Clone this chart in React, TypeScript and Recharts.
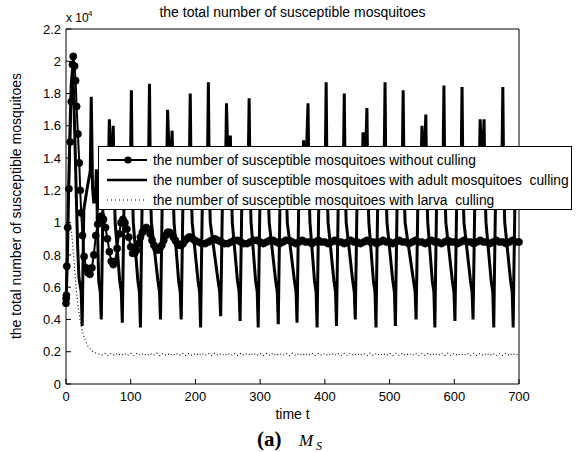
import { LineChart, Line, XAxis, YAxis, Legend } from "recharts";

const xTicks = [0, 100, 200, 300, 400, 500, 600, 700];
const yTicks = [0, 0.2, 0.4, 0.6, 0.8, 1, 1.2, 1.4, 1.6, 1.8, 2, 2.2];

const seriesNames = [
  "the number of susceptible mosquitoes without culling",
  "the number of susceptible mosquitoes with adult mosquitoes  culling",
  "the number of susceptible mosquitoes with larva  culling",
];

// [time t, susceptible mosquitoes in units of 10^4]
const withoutCulling: [number, number][] = [
  [0, 0.5], [0.3, 0.53], [0.6, 0.55], [1.2, 0.73], [2.5, 0.97], [4.5, 1.21], [6.5, 1.5], [8.2, 1.75],
  [10, 1.98], [11.2, 2.03], [13.3, 1.97], [14.8, 1.88], [16.4, 1.72], [18.4, 1.55], [20.5, 1.37],
  [22, 1.2], [23.5, 1.06], [25.5, 0.92], [28, 0.79], [31, 0.72], [34, 0.69], [37, 0.68], [40, 0.72],
  [43, 0.8], [46, 0.92], [49, 0.99], [52, 1.03], [55, 1.04], [58, 1.02], [61, 0.97], [64, 0.9],
  [67, 0.82], [70, 0.76], [73, 0.74], [76, 0.76], [79, 0.84], [82, 0.93], [85, 1.0], [88, 1.02],
  [91, 1.0], [94, 0.96], [97, 0.91], [100, 0.85], [103, 0.81], [106, 0.81], [109, 0.83], [112, 0.87],
  [115, 0.91], [118, 0.94], [121, 0.96], [124, 0.97], [127, 0.96], [130, 0.93], [133, 0.89], [136, 0.86],
  [139, 0.84], [142, 0.83], [145, 0.84], [148, 0.86], [151, 0.89], [154, 0.92], [157, 0.94], [160, 0.94],
  [163, 0.93], [166, 0.91], [169, 0.89], [172, 0.87], [175, 0.86], [178, 0.86], [181, 0.87], [184, 0.89],
  [187, 0.9], [190, 0.91], [193, 0.91], [196, 0.9], [199, 0.89],
  [205, 0.88], [210, 0.87], [215, 0.87], [220, 0.88], [225, 0.89], [230, 0.9], [235, 0.89], [240, 0.88],
  [245, 0.87], [250, 0.87], [255, 0.88], [260, 0.89], [265, 0.89], [270, 0.88], [275, 0.87], [280, 0.87],
  [285, 0.88], [290, 0.89], [295, 0.89], [300, 0.88], [305, 0.87], [310, 0.88], [315, 0.89], [320, 0.89],
  [325, 0.88], [330, 0.87], [335, 0.88], [340, 0.89], [345, 0.89], [350, 0.88], [355, 0.87], [360, 0.88],
  [365, 0.89], [370, 0.88], [375, 0.88], [380, 0.87], [385, 0.88], [390, 0.89], [395, 0.88], [400, 0.88],
  [405, 0.87], [410, 0.88], [415, 0.89], [420, 0.88], [425, 0.88], [430, 0.87], [435, 0.88], [440, 0.89],
  [445, 0.88], [450, 0.88], [455, 0.87], [460, 0.88], [465, 0.89], [470, 0.88], [475, 0.88], [480, 0.87],
  [485, 0.88], [490, 0.89], [495, 0.88], [500, 0.88], [505, 0.87], [510, 0.88], [515, 0.89], [520, 0.88],
  [525, 0.88], [530, 0.87], [535, 0.88], [540, 0.89], [545, 0.88], [550, 0.88], [555, 0.87], [560, 0.88],
  [565, 0.89], [570, 0.88], [575, 0.88], [580, 0.87], [585, 0.88], [590, 0.89], [595, 0.88], [600, 0.88],
  [605, 0.87], [610, 0.88], [615, 0.89], [620, 0.88], [625, 0.88], [630, 0.87], [635, 0.88], [640, 0.89],
  [645, 0.88], [650, 0.88], [655, 0.87], [660, 0.88], [665, 0.89], [670, 0.88], [675, 0.88], [680, 0.87],
  [685, 0.88], [690, 0.89], [695, 0.88], [700, 0.88],
];

const adultCulling: [number, number][] = [
  [0, 0.5], [2, 0.75], [4, 1.2], [6, 1.55], [8, 1.85], [10, 1.95], [12, 1.78], [14, 1.48], [16, 1.15],
  [18, 0.85], [20, 0.66], [23.5, 0.57], [25, 0.36],
  [26.2, 0.72], [27.5, 1.08], [33, 1.22], [37.5, 1.32], [39, 1.78], [41, 1.22], [43, 1.12], [45.5, 1.18],
  [47, 1.33], [48.5, 1.0], [50.5, 0.64], [53, 0.57], [54.5, 0.4],
  [55.7, 0.72], [57, 1.08], [62, 1.22], [65.5, 1.32], [67, 1.64], [70, 1.28], [73, 1.6], [74.5, 1.2],
  [76, 1.0], [83, 0.64], [85.5, 0.57], [87, 0.38],
  [88.2, 0.72], [89.5, 1.08], [94, 1.22], [99.5, 1.32], [101, 1.82], [102.5, 1.2], [104, 1.0], [111, 0.64],
  [113.5, 0.57], [115, 0.35],
  [116.2, 0.72], [117.5, 1.08], [122, 1.22], [127.5, 1.32], [129, 1.86], [130.5, 1.2], [132, 1.0], [142, 0.64],
  [144.5, 0.57], [146, 0.4],
  [147.2, 0.72], [148.5, 1.08], [153, 1.22], [155.5, 1.32], [157, 1.7], [160.5, 1.28], [164, 1.57],
  [165.5, 1.2], [167, 1.0], [174, 0.64], [176.5, 0.57], [178, 0.4],
  [179.2, 0.72], [180.5, 1.08], [185, 1.22], [190.5, 1.32], [192, 1.8], [193.5, 1.2], [195, 1.0], [204, 0.64],
  [206.5, 0.57], [208, 0.35],
  [209.2, 0.72], [210.5, 1.08], [215, 1.22], [218.5, 1.32], [220, 1.87], [221.5, 1.2], [223, 1.0], [235, 0.64],
  [237.5, 0.57], [239, 0.42],
  [240.2, 0.72], [241.5, 1.08], [245, 1.22], [246.5, 1.32], [248, 1.74], [251, 1.28], [254, 1.54],
  [255.5, 1.2], [257, 1.0], [265, 0.64], [267.5, 0.57], [269, 0.39],
  [270.2, 0.72], [271.5, 1.08], [276, 1.22], [281.5, 1.32], [283, 1.77], [284.5, 1.2], [286, 1.0], [293, 0.64],
  [295.5, 0.57], [297, 0.35],
  [298.2, 0.72], [299.5, 1.08], [304, 1.22], [309.5, 1.3], [311, 1.42], [312.5, 1.2], [314, 1.0], [324, 0.64],
  [326.5, 0.57], [328, 0.37],
  [329.2, 0.72], [330.5, 1.08], [335, 1.22], [337.5, 1.3], [339, 1.38], [340.5, 1.2], [342, 1.0], [353, 0.64],
  [355.5, 0.57], [357, 0.38],
  [358.2, 0.72], [359.5, 1.08], [363, 1.22], [365.5, 1.32], [367, 1.51], [370.5, 1.3], [374, 1.74],
  [375.5, 1.2], [377, 1.0], [384, 0.64], [386.5, 0.57], [388, 0.35],
  [389.2, 0.72], [390.5, 1.08], [395, 1.22], [400.5, 1.32], [402, 1.87], [403.5, 1.2], [405, 1.0], [414, 0.64],
  [416.5, 0.57], [418, 0.36],
  [419.2, 0.72], [420.5, 1.08], [425, 1.22], [428.5, 1.32], [430, 1.8], [431.5, 1.2], [433, 1.0], [443, 0.64],
  [445.5, 0.57], [447, 0.4],
  [448.2, 0.72], [449.5, 1.08], [454, 1.22], [457.5, 1.32], [459, 1.56], [462, 1.3], [465, 1.71],
  [466.5, 1.2], [468, 1.0], [475, 0.64], [477.5, 0.57], [479, 0.35],
  [480.2, 0.72], [481.5, 1.08], [486, 1.22], [491.5, 1.32], [493, 1.87], [494.5, 1.2], [496, 1.0], [505, 0.64],
  [507.5, 0.57], [509, 0.36],
  [510.2, 0.72], [511.5, 1.08], [516, 1.22], [519.5, 1.32], [521, 1.82], [522.5, 1.2], [524, 1.0], [537, 0.64],
  [539.5, 0.57], [541, 0.4],
  [542.2, 0.72], [543.5, 1.08], [547, 1.22], [548.5, 1.32], [550, 1.6], [553, 1.3], [556, 1.67],
  [557.5, 1.2], [559, 1.0], [566, 0.64], [568.5, 0.57], [570, 0.35],
  [571.2, 0.72], [572.5, 1.08], [577, 1.22], [582.5, 1.32], [584, 1.85], [585.5, 1.2], [587, 1.0], [597, 0.64],
  [599.5, 0.57], [601, 0.39],
  [602.2, 0.72], [603.5, 1.08], [608, 1.22], [610.5, 1.32], [612, 1.84], [613.5, 1.2], [615, 1.0], [625, 0.64],
  [627.5, 0.57], [629, 0.4],
  [630.2, 0.72], [631.5, 1.08], [636, 1.22], [638.5, 1.32], [640, 1.64], [643, 1.3], [646, 1.64],
  [647.5, 1.2], [649, 1.0], [657, 0.64], [659.5, 0.57], [661, 0.35],
  [662.2, 0.72], [663.5, 1.08], [668, 1.22], [673.5, 1.32], [675, 1.84], [676.5, 1.2], [678, 1.0], [687, 0.64],
  [689.5, 0.57], [691, 0.35],
  [692.2, 0.72], [693.5, 1.08], [698, 1.22], [700, 1.26],
];

const larvaCulling: [number, number][] = [
  [0, 0.5], [1, 0.62], [2, 0.78], [3, 0.9], [4, 0.97], [5, 1.0], [6.5, 1.0], [8, 0.96], [10, 0.88],
  [12, 0.78], [14, 0.68], [16, 0.58], [18, 0.5], [20, 0.44], [22, 0.39], [25, 0.33], [28, 0.29],
  [31, 0.26], [34, 0.235], [37, 0.22], [40, 0.205], [44, 0.195], [48, 0.19], [52, 0.183],
  [55, 0.178], [60, 0.19], [65, 0.176], [70, 0.19], [75, 0.177], [80, 0.191], [85, 0.176], [90, 0.19],
  [95, 0.177], [100, 0.19], [105, 0.176], [110, 0.191], [115, 0.177], [120, 0.19], [125, 0.176], [130, 0.19],
  [135, 0.177], [140, 0.191], [145, 0.176], [150, 0.19], [155, 0.177], [160, 0.19], [165, 0.176], [170, 0.191],
  [175, 0.177], [180, 0.19], [185, 0.176], [190, 0.19], [195, 0.177], [200, 0.191], [205, 0.176], [210, 0.19],
  [215, 0.177], [220, 0.19], [225, 0.176], [230, 0.191], [235, 0.177], [240, 0.19], [245, 0.176], [250, 0.19],
  [255, 0.177], [260, 0.191], [265, 0.176], [270, 0.19], [275, 0.177], [280, 0.19], [285, 0.176], [290, 0.191],
  [295, 0.177], [300, 0.19], [305, 0.176], [310, 0.19], [315, 0.177], [320, 0.191], [325, 0.176], [330, 0.19],
  [335, 0.177], [340, 0.19], [345, 0.176], [350, 0.191], [355, 0.177], [360, 0.19], [365, 0.176], [370, 0.19],
  [375, 0.177], [380, 0.191], [385, 0.176], [390, 0.19], [395, 0.177], [400, 0.19], [405, 0.176], [410, 0.191],
  [415, 0.177], [420, 0.19], [425, 0.176], [430, 0.19], [435, 0.177], [440, 0.191], [445, 0.176], [450, 0.19],
  [455, 0.177], [460, 0.19], [465, 0.176], [470, 0.191], [475, 0.177], [480, 0.19], [485, 0.176], [490, 0.19],
  [495, 0.177], [500, 0.191], [505, 0.176], [510, 0.19], [515, 0.177], [520, 0.19], [525, 0.176], [530, 0.191],
  [535, 0.177], [540, 0.19], [545, 0.176], [550, 0.19], [555, 0.177], [560, 0.191], [565, 0.176], [570, 0.19],
  [575, 0.177], [580, 0.19], [585, 0.176], [590, 0.191], [595, 0.177], [600, 0.19], [605, 0.176], [610, 0.19],
  [615, 0.177], [620, 0.191], [625, 0.176], [630, 0.19], [635, 0.177], [640, 0.19], [645, 0.176], [650, 0.191],
  [655, 0.177], [660, 0.19], [665, 0.176], [670, 0.19], [675, 0.177], [680, 0.191], [685, 0.176], [690, 0.19],
  [695, 0.177], [700, 0.19],
];

const rows = (pts: [number, number][]) => pts.map(([t, v]) => ({ t, v }));

const sans = "'Liberation Sans', Arial, Helvetica, sans-serif";
const serif = "'Liberation Serif', 'Times New Roman', serif";

const LegendBox = () => (
  <div
    style={{
      boxSizing: "border-box",
      width: 474,
      height: 64,
      paddingTop: 3,
      background: "#fff",
      border: "1px solid #000",
      fontFamily: sans,
      fontSize: 13.8,
      color: "#000",
    }}>
    {seriesNames.map((name, i) => (
      <div key={name} style={{ display: "flex", alignItems: "center", height: 20 }}>
        <svg width={54} height={20} style={{ flex: "none" }}>
          {i === 0 && (
            <>
              <line x1={8} y1={10} x2={48} y2={10} stroke="#000" strokeWidth={2} />
              <circle cx={29} cy={10} r={3.6} fill="#000" />
            </>
          )}
          {i === 1 && <line x1={8} y1={10} x2={48} y2={10} stroke="#000" strokeWidth={2.5} />}
          {i === 2 && (
            <line x1={8} y1={10} x2={48} y2={10} stroke="#000" strokeWidth={1} strokeDasharray="1 3" />
          )}
        </svg>
        <span style={{ whiteSpace: "pre" }}>{name}</span>
      </div>
    ))}
  </div>
);

export default function App() {
  const tickStyle = { fill: "#000", fontSize: 13, fontFamily: sans };
  return (
    <div style={{ position: "absolute", left: 0, top: 0, width: 577, height: 452, background: "#fff" }}>
      <LineChart width={577} height={452} margin={{ top: 24, right: 53, bottom: 38, left: 16 }}>
        <XAxis
          xAxisId={0}
          type="number"
          dataKey="t"
          domain={[0, 700]}
          ticks={xTicks}
          height={30}
          stroke="#000"
          tickSize={-5}
          tickMargin={13}
          tick={tickStyle}
        />
        <XAxis
          xAxisId="top"
          orientation="top"
          type="number"
          dataKey="t"
          domain={[0, 700]}
          ticks={xTicks}
          height={5}
          stroke="#000"
          tickSize={-5}
          tick={false}
        />
        <YAxis
          yAxisId={0}
          type="number"
          domain={[0, 2.2]}
          ticks={yTicks}
          width={50}
          stroke="#000"
          tickSize={-5}
          tickMargin={10}
          tick={tickStyle}
          tickFormatter={(v: number) => String(parseFloat(v.toFixed(1)))}
        />
        <YAxis
          yAxisId="right"
          orientation="right"
          type="number"
          domain={[0, 2.2]}
          ticks={yTicks}
          width={5}
          stroke="#000"
          tickSize={-5}
          tick={false}
        />
        <Line
          data={rows(adultCulling)}
          dataKey="v"
          type="linear"
          stroke="#000"
          strokeWidth={3}
          dot={false}
          isAnimationActive={false}
        />
        <Line
          data={rows(withoutCulling)}
          dataKey="v"
          type="linear"
          stroke="#000"
          strokeWidth={2}
          dot={{ r: 3.6, fill: "#000", stroke: "#000", strokeWidth: 0.6 }}
          isAnimationActive={false}
        />
        <Line
          data={rows(larvaCulling)}
          dataKey="v"
          type="linear"
          stroke="#000"
          strokeWidth={1.1}
          strokeDasharray="1 2.5"
          dot={false}
          isAnimationActive={false}
        />
        <Legend
          layout="vertical"
          align="center"
          verticalAlign="middle"
          wrapperStyle={{ left: 98, top: 146, width: 474, height: 64 }}
          content={() => <LegendBox />}
        />
      </LineChart>
      <svg
        width={577}
        height={452}
        style={{ position: "absolute", left: 0, top: 0, pointerEvents: "none" }}>
        <text x={292.5} y={17} textAnchor="middle" fontFamily={sans} fontSize={14}>
          the total number of susceptible mosquitoes
        </text>
        <text x={66} y={22} fontFamily={sans} fontSize={12}>
          x 10
        </text>
        <text x={88} y={16} fontFamily={sans} fontSize={8}>
          4
        </text>
        <text
          x={21}
          y={206}
          textAnchor="middle"
          fontFamily={sans}
          fontSize={14}
          transform="rotate(-90 21 206)">
          the total number of susceptible mosquitoes
        </text>
        <text x={292.5} y={419} textAnchor="middle" fontFamily={sans} fontSize={14}>
          time t
        </text>
        <text x={257} y={446} fontFamily={serif} fontSize={21} fontWeight="bold">
          (a)
        </text>
        <text x={299} y={446} fontFamily={serif} fontSize={17} fontStyle="italic">
          M
        </text>
        <text x={316} y={450} fontFamily={serif} fontSize={12} fontStyle="italic">
          S
        </text>
      </svg>
    </div>
  );
}
